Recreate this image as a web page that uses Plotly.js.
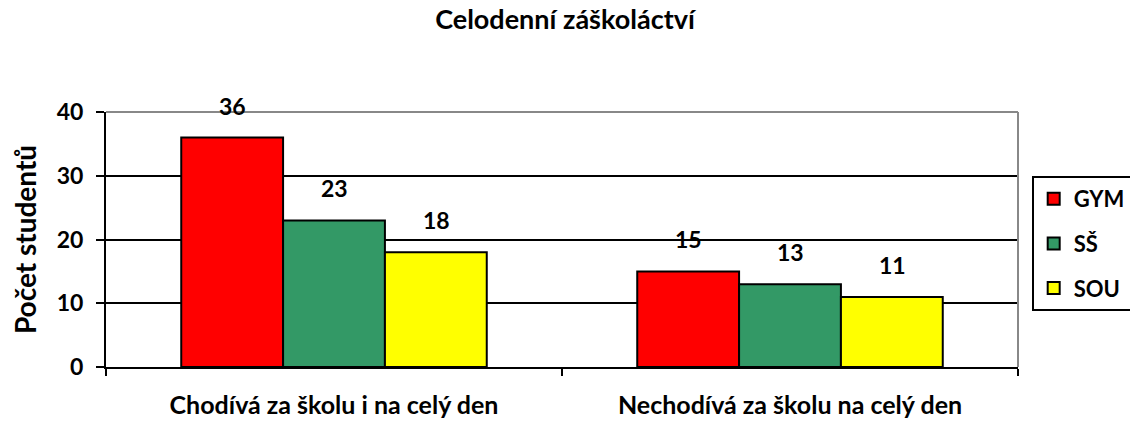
<!DOCTYPE html>
<html><head><meta charset="utf-8">
<script src="https://cdn.plot.ly/plotly-3.0.1.min.js"></script>
<style>body{margin:0;background:#fff}#c{width:1130px;height:421px}</style>
</head><body><div id="c"></div>
<script>
const categories = ["Chodívá za školu i na celý den", "Nechodívá za školu na celý den"];
const seriesNames = ["GYM", "SŠ", "SOU"];
const gym = [36, 15];
const ss = [23, 13];
const sou = [18, 11];
const yTicks = [0, 10, 20, 30, 40];

const values = [gym, ss, sou];
const colors = ["#FF0000", "#339966", "#FFFF00"];
const FONT = "Lato, sans-serif";

const traces = seriesNames.map((n, i) => ({
  type: "bar", name: n, x: categories, y: values[i],
  legendgroup: "g" + i,
  marker: {color: colors[i], line: {color: "#000", width: 2}},
  hoverinfo: "none"
}));

const barPx = 102;
const annotations = [];
values.forEach((vals, i) => {
  vals.forEach((v, j) => {
    annotations.push({
      x: categories[j], y: v, xref: "x", yref: "y",
      text: String(v), showarrow: false,
      xshift: (i - 1) * barPx, yshift: 32,
      font: {family: FONT, size: 23, color: "#000", weight: 700}
    });
  });
});

const layout = {
  width: 1130, height: 421,
  margin: {l: 106, r: 112, t: 112, b: 54},
  paper_bgcolor: "#fff", plot_bgcolor: "#fff",
  title: {text: "Celodenní záškoláctví", x: 0.5, xanchor: "center", y: 1, yanchor: "top", yref: "container", pad: {t: 10},
    font: {family: FONT, size: 27, color: "#000", weight: 700}},
  barmode: "group", bargap: 0.33, bargroupgap: 0,
  xaxis: {type: "category", tickson: "boundaries", ticks: "outside", ticklen: 7, tickwidth: 2, tickcolor: "#000",
    showline: true, linecolor: "#000", linewidth: 2, showgrid: false, ticklabelstandoff: 15,
    tickfont: {family: FONT, size: 25, color: "#000", weight: 700}, fixedrange: true},
  yaxis: {range: [0, 40], tickvals: yTicks, ticks: "outside", ticklen: 8, tickwidth: 2, tickcolor: "#000",
    showline: true, linecolor: "#000", linewidth: 2, showgrid: true, gridcolor: "#000", gridwidth: 2,
    zeroline: false, ticklabelstandoff: 8,
    tickfont: {family: FONT, size: 23, color: "#000", weight: 700},
    title: {text: "Počet studentů", standoff: 12, font: {family: FONT, size: 28, color: "#000", weight: 700}}, fixedrange: true},
  shapes: [
    {type: "line", xref: "paper", yref: "paper", x0: 0, x1: 1, y0: 1, y1: 1, line: {color: "#888", width: 2}, layer: "above"},
    {type: "line", xref: "paper", yref: "paper", x0: 1, x1: 1, y0: 0, y1: 1, line: {color: "#888", width: 2}, layer: "above"}
  ],
  showlegend: true,
  legend: {xref: "container", yref: "container", x: 0.913, xanchor: "left", y: 0.582, yanchor: "top",
    bordercolor: "#000", borderwidth: 2, bgcolor: "#fff",
    traceorder: "grouped", tracegroupgap: 13, itemwidth: 30,
    font: {family: FONT, size: 22, color: "#000", weight: 700}},
  annotations: annotations
};

Plotly.newPlot("c", traces, layout, {staticPlot: true, displayModeBar: false});
</script></body></html>
